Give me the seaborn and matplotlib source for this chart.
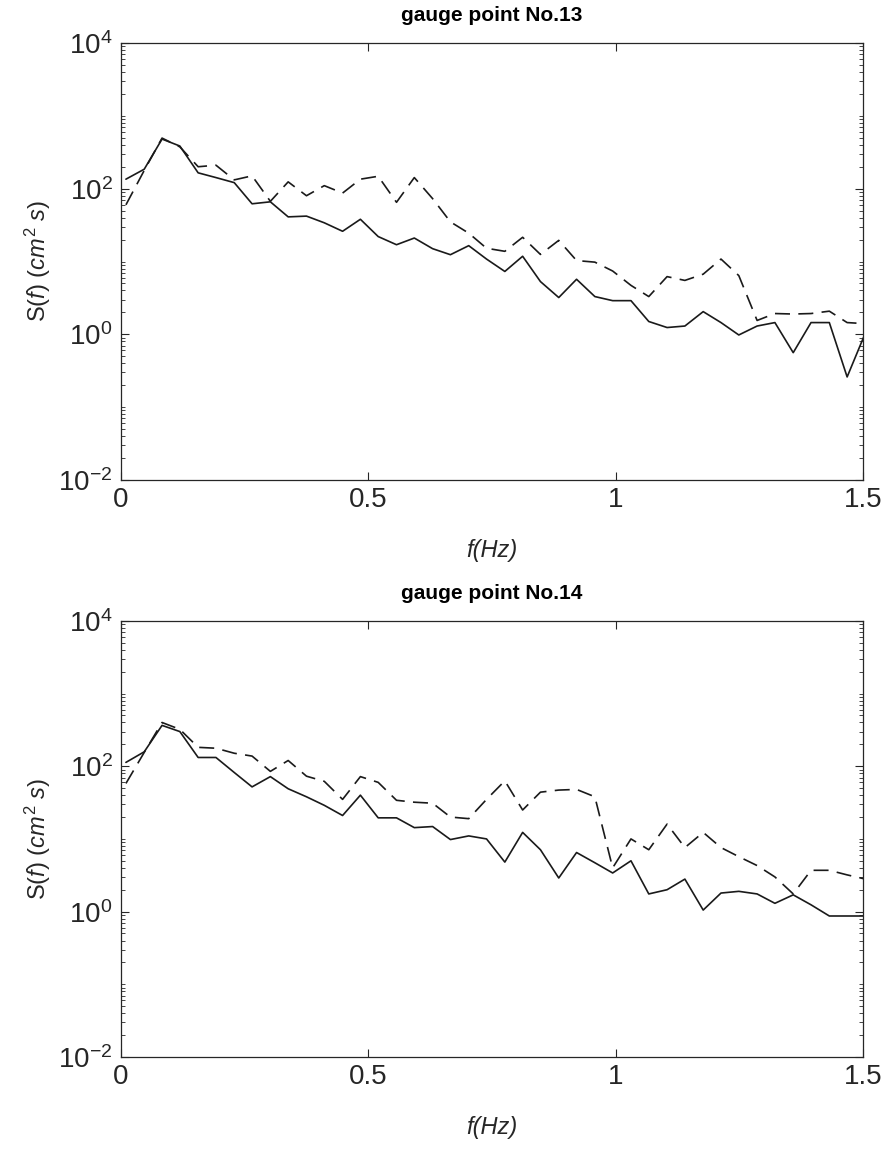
import numpy as np
import matplotlib
matplotlib.use("Agg")
import matplotlib.pyplot as plt
import matplotlib.ticker as mticker
import seaborn as sns

# frequences (Hz)
freq = [0.010, 0.047, 0.083, 0.119, 0.156, 0.192, 0.229, 0.265, 0.302, 0.338,
        0.375, 0.411, 0.448, 0.484, 0.520, 0.557, 0.593, 0.630, 0.666, 0.703,
        0.739, 0.776, 0.812, 0.848, 0.885, 0.921, 0.958, 0.994, 1.031, 1.067,
        1.104, 1.140, 1.177, 1.213, 1.249, 1.286, 1.322, 1.359, 1.395, 1.432,
        1.468, 1.505]

# point No.13
s13_solid = [135, 185, 480, 385, 165, 142, 121, 62, 66, 41,
             42, 34, 26, 38, 22, 17, 21, 15, 12.4, 16.5,
             10.8, 7.3, 11.8, 5.3, 3.2, 5.7, 3.3, 2.9, 2.9, 1.5,
             1.24, 1.3, 2.05, 1.45, 0.98, 1.3, 1.45, 0.56, 1.45, 1.45,
             0.26, 1.05]
s13_dash = [60, 178, 495, 375, 200, 210, 132, 150, 67, 124,
            80, 110, 87, 135, 148, 65, 142, 73, 35, 24.5,
            15.2, 13.8, 21.5, 12.5, 19.5, 10.3, 9.8, 7.4, 4.7, 3.3,
            6.2, 5.5, 6.7, 10.8, 6.4, 1.55, 1.93, 1.9, 1.93, 2.08,
            1.45, 1.4]

# point No.14
s14_solid = [113, 158, 365, 300, 132, 132, 82, 52, 72, 49,
             38, 29, 21, 40, 19.5, 19.5, 14.3, 14.8, 9.8, 11,
             10, 4.8, 12.3, 7.1, 2.9, 6.5, 4.7, 3.4, 5.0, 1.75,
             2.0, 2.8, 1.05, 1.8, 1.9, 1.75, 1.3, 1.7, 1.24, 0.87,
             0.87, 0.87]
s14_dash = [58, 155, 400, 322, 182, 177, 151, 138, 85, 120,
            73, 62, 35, 72, 60, 34, 32, 31, 20, 19,
            35, 63, 25, 44, 47, 48, 38, 4.0, 10, 7.1,
            16, 7.6, 12.3, 7.6, 5.7, 4.3, 3.0, 1.75, 3.7, 3.7,
            3.2, 2.8]

titles = ["gauge point No.13", "gauge point No.14"]

sns.set_style("white")
plt.rcParams["font.family"] = ["Liberation Sans", "DejaVu Sans"]
plt.rcParams["mathtext.fontset"] = "custom"
plt.rcParams["mathtext.rm"] = "Liberation Sans"
plt.rcParams["mathtext.it"] = "Liberation Sans:italic"
plt.rcParams["mathtext.default"] = "regular"
plt.rcParams["axes.unicode_minus"] = False

fig = plt.figure(figsize=(8.85, 11.53), dpi=100)
ax1 = fig.add_axes([0.1367, 0.5837, 0.8384, 0.3790])
ax2 = fig.add_axes([0.1367, 0.0833, 0.8384, 0.3782])

txt = "#262626"
for ax, solid, dash, title in [(ax1, s13_solid, s13_dash, titles[0]),
                               (ax2, s14_solid, s14_dash, titles[1])]:
    sns.lineplot(x=freq, y=solid, ax=ax, color="#1a1a1a", linewidth=1.2)
    sns.lineplot(x=freq, y=dash, ax=ax, color="#1a1a1a", linewidth=1.2,
                 linestyle=(0, (9, 5)))
    ax.set_yscale("log")
    ax.set_xlim(0, 1.5)
    ax.set_ylim(1e-2, 1e4)
    ax.set_xticks([0, 0.5, 1, 1.5])
    ax.set_xticklabels(["0", "0.5", "1", "1.5"])
    ax.yaxis.set_major_locator(mticker.FixedLocator([1e-2, 1, 1e2, 1e4]))
    ax.yaxis.set_minor_locator(mticker.LogLocator(base=10, subs=np.arange(1, 10), numticks=20))
    ax.yaxis.set_minor_formatter(mticker.NullFormatter())
    ax.tick_params(axis="both", which="both", direction="in",
                   left=True, bottom=True, top=True, right=True,
                   colors=txt, labelsize=20)
    ax.tick_params(axis="both", which="major", length=6, width=0.8)
    ax.tick_params(axis="y", which="minor", length=3, width=0.6)
    ax.tick_params(axis="x", pad=5)
    ax.tick_params(axis="y", pad=6)
    for sp in ax.spines.values():
        sp.set_color(txt)
        sp.set_linewidth(0.9)
    ax.set_title(title, fontsize=15, fontweight="bold", color="black", pad=16)
    ax.set_xlabel("f(Hz)", fontsize=17, fontstyle="italic", color=txt, labelpad=19)
    ax.set_ylabel(r"S($\it{f}$) ($\it{cm}^{2}$ $\it{s}$)", fontsize=17, color=txt, labelpad=4)

fig.savefig("out.png", dpi=100)
